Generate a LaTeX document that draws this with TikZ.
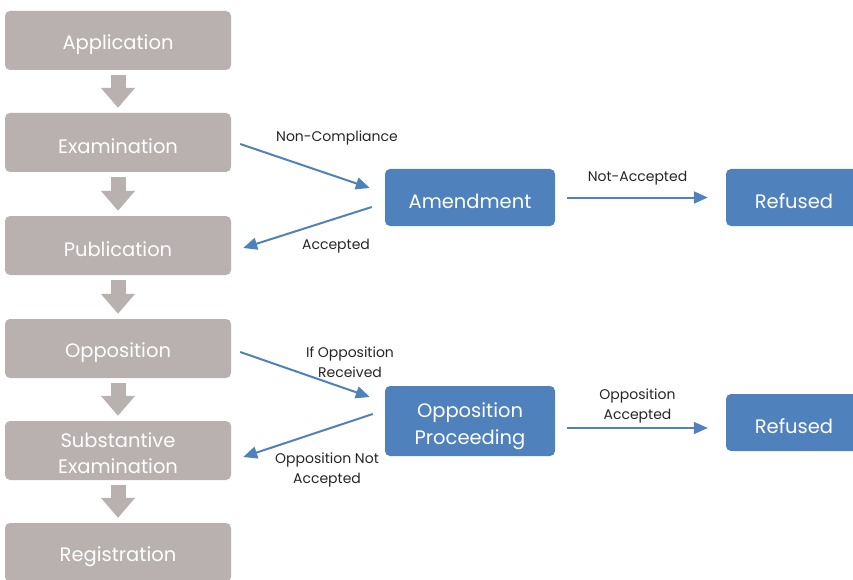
\documentclass[tikz,border=0pt]{standalone}
\usepackage{fontspec}
\setmainfont{Poppins}
\usetikzlibrary{arrows.meta}

\definecolor{boxgray}{RGB}{185,176,176}
\definecolor{stepblue}{RGB}{79,129,189}
\definecolor{labeltext}{RGB}{38,38,38}

\begin{document}
\begin{tikzpicture}[x=1pt,y=-1pt,
    graybox/.style={fill=boxgray,rounded corners=5pt,minimum width=226pt,minimum height=59pt,
        inner sep=0pt,text=white,align=center,font=\fontsize{19.5}{26}\selectfont,
        execute at begin node={\rule{0pt}{23pt}}},
    bluebox/.style={fill=stepblue,rounded corners=5pt,minimum width=170pt,minimum height=57pt,
        inner sep=0pt,text=white,align=center,font=\fontsize{19.5}{27}\selectfont,
        execute at begin node={\rule{0pt}{22pt}}},
    flow/.style={draw=stepblue,line width=2pt,-{Triangle[width=12pt,length=14pt]}},
    down/.style={draw=boxgray,line width=15pt,-{Triangle[width=33pt,length=20pt]}},
    lbl/.style={text=labeltext,align=center,font=\fontsize{14}{20}\selectfont}]

    % Frame of the picture
    \clip (0,0) rectangle (853,580);

    % Main steps
    \node[graybox] (app)   at (118,40.5)  {Application};
    \node[graybox] (exam)  at (118,142.5) {Examination};
    \node[graybox] (pub)   at (118,245.5) {Publication};
    \node[graybox] (opp)   at (118,348.5) {Opposition};
    \node[graybox,text height=47pt] (subex) at (118,450.5) {Substantive\\Examination};
    \node[graybox] (reg)   at (118,552.5) {Registration};

    % Arrows down the main line
    \foreach \from/\to in {app/exam,exam/pub,pub/opp,opp/subex,subex/reg}
        \draw[down] ([yshift=-5pt]\from.south) -- ([yshift=5pt]\to.north);

    % Side steps
    \node[bluebox] (amend)   at (470,197.5) {Amendment};
    \node[bluebox,minimum width=136pt] (refA) at (794,197.5) {Refused};
    \node[bluebox,minimum height=70pt,text height=53pt] (oppproc) at (470,421) {Opposition\\Proceeding};
    \node[bluebox,minimum width=136pt] (refB) at (794,422.5) {Refused};

    % Amendment loop
    \draw[flow] ([xshift=9pt,yshift=-1.5pt]exam.east) --
        node[lbl,xshift=32pt,yshift=28pt] {Non-Compliance}
        ([xshift=-15pt,yshift=9.5pt]amend.west);
    \draw[flow] ([xshift=-13pt,yshift=-9.5pt]amend.west) --
        node[lbl,xshift=28.5pt,yshift=-18.5pt] {Accepted}
        ([xshift=12pt,yshift=-2.5pt]pub.east);
    \draw[flow] ([xshift=12pt]amend.east) --
        node[lbl,yshift=19pt] {Not-Accepted}
        ([xshift=-18pt]refA.west);

    % Opposition loop
    \draw[flow] ([xshift=9pt,yshift=-3.5pt]opp.east) --
        node[lbl,xshift=45pt,yshift=12.5pt] {If Opposition\\Received}
        ([xshift=-15pt,yshift=24pt]oppproc.west);
    \draw[flow] ([xshift=-12pt,yshift=7pt]oppproc.west) --
        node[lbl,xshift=19pt,yshift=-34.5pt] {Opposition Not\\Accepted}
        ([xshift=12pt,yshift=-6.5pt]subex.east);
    \draw[flow] ([xshift=12pt,yshift=-7pt]oppproc.east) --
        node[lbl,yshift=22pt] {Opposition\\Accepted}
        ([xshift=-18pt,yshift=-5.5pt]refB.west);

\end{tikzpicture}
\end{document}
